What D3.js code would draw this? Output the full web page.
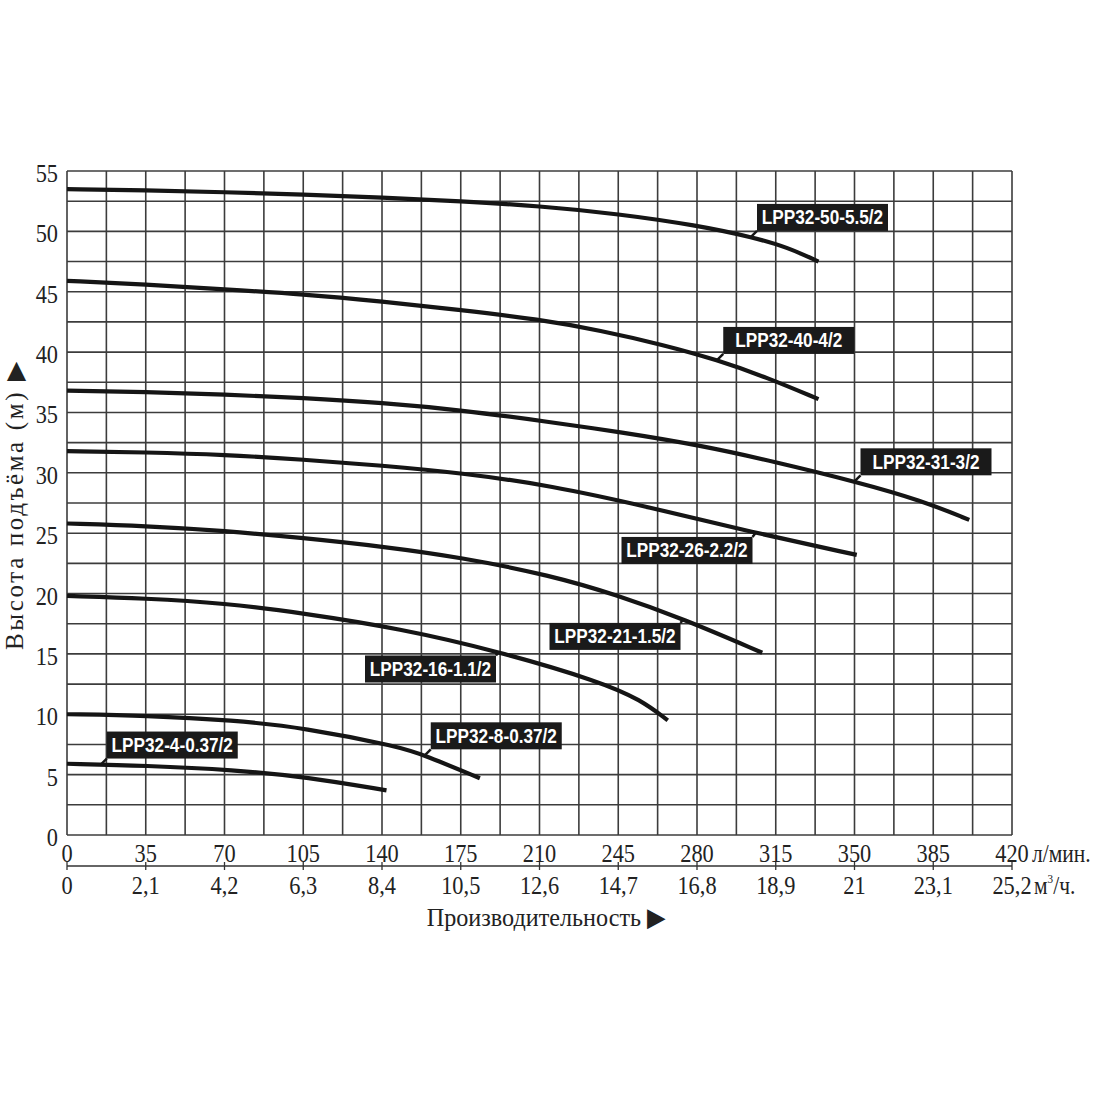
<!DOCTYPE html>
<html>
<head>
<meta charset="utf-8">
<script src="https://cdn.jsdelivr.net/npm/d3@7"></script>
<style>
  body { margin: 0; background: #fff; }
  svg { display: block; }
</style>
</head>
<body>
<svg id="chart" width="1100" height="1100"></svg>
<script>
// Pump curves LPP32 - head (m) vs flow (l/min)
const flowTicks = [0, 35, 70, 105, 140, 175, 210, 245, 280, 315, 350, 385, 420];
const flowM3Labels = ["0", "2,1", "4,2", "6,3", "8,4", "10,5", "12,6", "14,7", "16,8", "18,9", "21", "23,1", "25,2"];
const headTicks = [0, 5, 10, 15, 20, 25, 30, 35, 40, 45, 50, 55];

// one pair of arrays per pump
const q50 = [0, 35, 70, 105, 140, 175, 210, 245, 280, 305, 320, 334];
const h50 = [53.5, 53.4, 53.25, 53.05, 52.8, 52.5, 52.1, 51.45, 50.5, 49.5, 48.7, 47.5];
const q40 = [0, 35, 70, 105, 140, 175, 210, 237, 265, 289, 311, 334];
const h40 = [45.9, 45.6, 45.2, 44.8, 44.2, 43.5, 42.7, 41.8, 40.6, 39.35, 37.9, 36.1];
const q31 = [0, 35, 70, 105, 140, 175, 215, 245, 281, 315, 351, 380, 401];
const h31 = [36.8, 36.7, 36.5, 36.2, 35.8, 35.2, 34.2, 33.4, 32.3, 30.9, 29.25, 27.7, 26.1];
const q26 = [0, 35, 70, 105, 140, 175, 215, 259, 304, 351];
const h26 = [31.8, 31.7, 31.5, 31.1, 30.6, 30.0, 28.95, 27.15, 25.1, 23.2];
const q21 = [0, 35, 70, 105, 140, 175, 215, 244, 274, 309];
const h21 = [25.8, 25.6, 25.2, 24.6, 23.9, 23.0, 21.5, 19.9, 17.9, 15.1];
const q16 = [0, 35, 70, 104, 148, 192, 237, 255, 267];
const h16 = [19.8, 19.6, 19.2, 18.4, 17.1, 15.2, 12.7, 11.2, 9.5];
const q8 = [0, 35, 74, 105, 148, 159, 183.5];
const h8 = [10.0, 9.9, 9.5, 8.9, 7.3, 6.6, 4.7];
const q4 = [0, 35, 74, 107, 142];
const h4 = [5.9, 5.75, 5.4, 4.8, 3.7];

const pumpNames = ["LPP32-50-5.5/2", "LPP32-40-4/2", "LPP32-31-3/2", "LPP32-26-2.2/2",
                   "LPP32-21-1.5/2", "LPP32-16-1.1/2", "LPP32-8-0.37/2", "LPP32-4-0.37/2"];
const pumpFlows = [q50, q40, q31, q26, q21, q16, q8, q4];
const pumpHeads = [h50, h40, h31, h26, h21, h16, h8, h4];
// flow where the label's pointer touches the curve, and which side the tag sits on
const labelFlow = [304, 289, 350, 306, 274, 192, 159, 15];
const labelSide = ["above", "above", "above", "below", "below", "below", "above", "above"];

const svg = d3.select("#chart");
const x = d3.scaleLinear().domain([0, 420]).range([67, 1012]);
const y = d3.scaleLinear().domain([0, 55]).range([835, 171]);

const serif = "'Liberation Serif', 'Times New Roman', serif";
const gridColor = "#3c3c3c";

// grid
const grid = svg.append("g");
grid.selectAll("line.v")
    .data(d3.range(0, 420.1, 17.5))
    .join("line")
    .attr("x1", d => x(d)).attr("x2", d => x(d))
    .attr("y1", y(0)).attr("y2", y(55))
    .attr("stroke", gridColor).attr("stroke-width", 1.6);
grid.selectAll("line.h")
    .data(d3.range(0, 55.1, 2.5))
    .join("line")
    .attr("x1", x(0)).attr("x2", x(420))
    .attr("y1", d => y(d)).attr("y2", d => y(d))
    .attr("stroke", gridColor).attr("stroke-width", 1.6);

// text helper: Times-like glyphs a bit narrower than tall, like the scan
function label(g, px, py, str, anchor, size, sx) {
    return g.append("text")
        .attr("transform", `translate(${px},${py}) scale(${sx || 0.86},1)`)
        .attr("text-anchor", anchor)
        .attr("font-family", serif)
        .attr("font-size", size || 26)
        .attr("fill", "#222")
        .text(str);
}

// y tick labels
const axes = svg.append("g");
headTicks.forEach(v => label(axes, 58, y(v) + 11, String(v), "end"));

// x tick labels, two rows split by a thin ruled line
flowTicks.forEach(v => label(axes, x(v), 862, String(v), "middle"));
flowTicks.forEach((v, i) => label(axes, x(v), 894, flowM3Labels[i], "middle"));
axes.append("line")
    .attr("x1", x(0)).attr("x2", x(420))
    .attr("y1", 866).attr("y2", 866)
    .attr("stroke", "#333").attr("stroke-width", 1.3);
axes.selectAll("line.tk")
    .data(flowTicks)
    .join("line")
    .attr("x1", d => x(d)).attr("x2", d => x(d))
    .attr("y1", 862).attr("y2", 870)
    .attr("stroke", "#333").attr("stroke-width", 1.3);

label(axes, 1032, 862, "л/мин.", "start", 25);
const m3 = label(axes, 1034, 894, "м", "start", 25);
m3.append("tspan").attr("font-size", 13).attr("dy", -11).text("3");
m3.append("tspan").attr("dy", 11).text("/ч.");

// axis titles
label(axes, 546, 926, "Производительность ▶", "middle", 26, 0.93);
axes.append("text")
    .attr("transform", `translate(23,506) rotate(-90)`)
    .attr("text-anchor", "middle")
    .attr("font-family", serif)
    .attr("font-size", 25)
    .attr("fill", "#222")
    .attr("textLength", 288)
    .text("Высота подъёма (м) ▶");

// curves
const line = d3.line()
    .x(d => x(d[0]))
    .y(d => y(d[1]))
    .curve(d3.curveBasis);

const curves = svg.append("g");
pumpNames.forEach((name, i) => {
    const pts = pumpFlows[i].map((q, k) => [q, pumpHeads[i][k]]);
    curves.append("path")
        .attr("d", line(pts))
        .attr("fill", "none")
        .attr("stroke", "#151515")
        .attr("stroke-width", 4.2)
        .attr("stroke-linecap", "butt");
});

// name tags
const tagW = 131, tagH = 27;
const tags = svg.append("g");
pumpNames.forEach((name, i) => {
    const qq = labelFlow[i];
    const hh = d3.scaleLinear().domain(pumpFlows[i]).range(pumpHeads[i])(qq);
    const px = x(qq), py = y(hh);
    let bx, by, cx, cy;
    if (labelSide[i] === "above") {
        cx = px + 6; cy = py - 6;
        bx = cx; by = cy - tagH;
    } else {
        cx = px - 3; cy = py + 4;
        bx = cx - tagW; by = cy;
    }
    tags.append("line")
        .attr("x1", px).attr("y1", py).attr("x2", cx).attr("y2", cy)
        .attr("stroke", "#151515").attr("stroke-width", 2.5);
    tags.append("rect")
        .attr("x", bx).attr("y", by)
        .attr("width", tagW).attr("height", tagH)
        .attr("fill", "#1a1a1a");
    tags.append("text")
        .attr("transform", `translate(${bx + tagW / 2},${by + tagH / 2 + 7}) scale(0.86,1)`)
        .attr("text-anchor", "middle")
        .attr("font-family", "'Liberation Sans', Arial, sans-serif")
        .attr("font-weight", "bold")
        .attr("font-size", 20)
        .attr("fill", "#fff")
        .text(name);
});
</script>
</body>
</html>
